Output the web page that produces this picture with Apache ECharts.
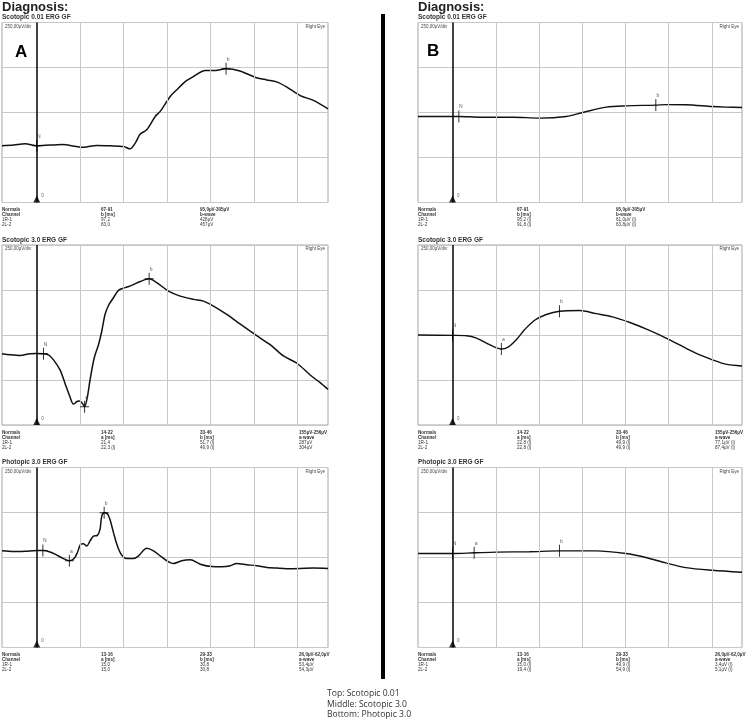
<!DOCTYPE html>
<html><head><meta charset="utf-8">
<script src="https://cdn.jsdelivr.net/npm/echarts@6/dist/echarts.min.js"></script>
<style>html,body{margin:0;padding:0;background:#fff}#c{width:746px;height:727px}</style>
</head><body><div id="c"></div>
<script>
// ---------- data ----------
const timeMin = -16, timeMax = 134;          // ms (20 ms/div)
const ampMin = -500, ampMax = 500, ampStep = 250; // µV (250 µV/div)
const timeGridMs = [20, 40, 60, 80, 100, 120];

const diagnosisLabel = 'Diagnosis:';
const panelTitles = ['Scotopic 0.01 ERG GF', 'Scotopic 3.0 ERG GF', 'Photopic 3.0 ERG GF'];
const scaleLabel = '250,00µV/div';
const eyeLabel = 'Right Eye';
const panelLetters = ['A', 'B'];
const captionLines = ['Top: Scotopic 0.01', 'Middle: Scotopic 3.0', 'Bottom: Photopic 3.0'];

// A column traces [ms, µV]
const aScot001 = [[-16,-185],[-10.7,-181],[-5.4,-174],[0,-185],[6.1,-181],[11.5,-178],[21.5,-193],[27.6,-183],[33.7,-185],[39.9,-189],[42.9,-202],[45.3,-170],[47.6,-120],[50.6,-96],[54.5,-22],[56.8,6],[61.4,89],[64.4,126],[68.3,172],[72.1,200],[77.5,233],[81.3,233],[87.1,243],[93.5,231],[100.4,196],[105.8,181],[110.4,170],[115.1,141],[121.2,94],[127.3,67],[134,20]];
const aScot30 = [[-16,-104],[-12.3,-110],[-7.7,-114],[-3.1,-104],[0,-103],[3.1,-104],[5.4,-110],[7.7,-138],[10.7,-194],[13.0,-269],[15.0,-334],[16.9,-384],[18.7,-368],[19.9,-366],[21.2,-384],[22.0,-399],[23.3,-343],[24.5,-250],[26.4,-129],[28.4,-54],[29.9,21],[31.4,114],[33.0,164],[35.3,207],[37.6,248],[40.7,263],[43.7,276],[47.6,297],[51.7,312],[55.2,291],[60.6,244],[66.0,216],[72.1,198],[76.7,188],[81.3,160],[87.4,114],[93.5,62],[100.5,2],[107.4,-54],[113.5,-116],[119.7,-157],[125.8,-222],[130.4,-265],[134,-302]];
const aPhot30 = [[-16,37],[-10.7,33],[-5.4,35],[0,39],[2.8,39],[6.1,31],[9.2,13],[12.3,-6],[15.0,-18],[17.2,-6],[18.7,28],[20.2,74],[21.5,77],[23.0,64],[24.5,92],[26.1,119],[27.9,123],[29.1,156],[29.9,230],[31.0,248],[32.5,243],[33.7,211],[35.3,138],[37.1,64],[39.1,13],[41.4,-6],[44.5,-6],[46.8,9],[50.6,51],[53.7,37],[56.8,9],[59.8,-18],[62.9,-33],[66.7,-18],[70.6,-13],[75.2,-37],[80.5,-50],[85.1,-51],[89.0,-46],[92.0,-33],[96.6,-40],[101.2,-46],[105.8,-55],[110.4,-59],[115.1,-62],[121.2,-61],[127.3,-59],[134,-61]];

// B column traces [ms, µV]
const bScot001 = [[-16,-22],[0,-22],[2.9,-22],[12.6,-26],[28.0,-26],[40.3,-31],[52.6,-22],[60.3,0],[71.1,30],[80.3,37],[94.1,41],[98.7,44],[108.0,43],[120.3,33],[126.4,30],[134,28]];
const bScot30 = [[-16,0],[0,-2],[6.5,-4],[11.1,-17],[15.7,-45],[19.5,-67],[22.6,-78],[25.7,-67],[29.5,-26],[33.4,30],[38.0,82],[43.4,114],[49.5,132],[58.8,136],[66.4,119],[74.1,101],[81.8,71],[89.5,34],[97.2,-7],[104.9,-54],[112.6,-101],[120.3,-138],[126.4,-162],[134,-172]];
const bPhot30 = [[-16,22],[0,22],[10.0,26],[20.3,30],[35.7,32],[49.5,37],[66.4,37],[80.3,22],[89.5,0],[98.7,-30],[108.0,-56],[120.3,-71],[134,-82]];

// markers [label, ms, µV]
const aScot001Marks = [['N',0,-185],['b',87.1,243],['t',133,20]];
const aScot30Marks  = [['N',3.1,-104],['a',22.0,-399],['b',51.7,312],['t',133,-302]];
const aPhot30Marks  = [['N',2.8,39],['a',15.0,-18],['b',31.0,248],['t',133,-61]];
const bScot001Marks = [['N',2.9,-22],['b',94.1,41],['t',133,28]];
const bScot30Marks  = [['N',0,-2],['a',22.6,-78],['b',49.5,132],['t',133,-172]];
const bPhot30Marks  = [['N',0,22],['a',10.0,26],['b',49.5,37],['t',133,-82]];

// result tables (columns)
const aScot001Results = [['Normals','Channel','1R-1','2L-2'],['67-91','b [ms]','97,2','83,0'],['95,0µV-305µV','b-wave','428µV','457µV']];
const aScot30Results  = [['Normals','Channel','1R-1','2L-2'],['14-22','a [ms]','21,4','22,3 (l)'],['33-46','b [ms]','51,7 (l)','49,9 (l)'],['155µV-256µV','a-wave','287µV','304µV']];
const aPhot30Results  = [['Normals','Channel','1R-1','2L-2'],['13-16','a [ms]','15,0','15,0'],['29-33','b [ms]','30,8','30,8'],['26,0µV-62,0µV','a-wave','53,4µV','54,3µV']];
const bScot001Results = [['Normals','Channel','1R-1','2L-2'],['67-91','b [ms]','95,2 (l)','91,8 (l)'],['95,0µV-305µV','b-wave','61,0µV (l)','63,8µV (l)']];
const bScot30Results  = [['Normals','Channel','1R-1','2L-2'],['14-22','a [ms]','22,8 (l)','22,8 (l)'],['33-46','b [ms]','49,9 (l)','49,9 (l)'],['155µV-256µV','a-wave','77,1µV (l)','87,4µV (l)']];
const bPhot30Results  = [['Normals','Channel','1R-1','2L-2'],['13-16','a [ms]','15,0 (l)','19,4 (l)'],['29-33','b [ms]','49,9 (l)','54,9 (l)'],['26,0µV-62,0µV','a-wave','3,4µV (l)','5,1µV (l)']];

// ---------- layout ----------
const FONT = '"Liberation Sans", Arial, sans-serif';
const colLeft = [2, 418], colWidth = [326, 324];
const rowTop = [22.5, 245, 467.5], boxH = 180;
const resColOffsets = [0, 99, 198, 297];

const panels = [
  {col:0,row:0,trace:aScot001,marks:aScot001Marks,res:aScot001Results},
  {col:0,row:1,trace:aScot30,marks:aScot30Marks,res:aScot30Results},
  {col:0,row:2,trace:aPhot30,marks:aPhot30Marks,res:aPhot30Results},
  {col:1,row:0,trace:bScot001,marks:bScot001Marks,res:bScot001Results},
  {col:1,row:1,trace:bScot30,marks:bScot30Marks,res:bScot30Results},
  {col:1,row:2,trace:bPhot30,marks:bPhot30Marks,res:bPhot30Results}
];

const grids = [], xAxes = [], yAxes = [], series = [], graphics = [];
const crossPath = 'path://M4,0h1v12h-1z M0,5.5h9v1h-9z';
const tickPath = 'path://M0,0h1v12h-1z';

function txt(x, y, text, size, opts) {
  opts = opts || {};
  graphics.push({type:'text', x:x, y:y, silent:true, z:100, style:{
    text:text, fill:opts.color||'#222', textAlign:opts.align||'left', textVerticalAlign:'middle',
    font:(opts.bold?'bold ':'')+size+'px '+(opts.family||FONT)}});
}

panels.forEach((p, i) => {
  const L = colLeft[p.col], W = colWidth[p.col], T = rowTop[p.row];
  grids.push({left:L, top:T, width:W, height:boxH, show:true, borderColor:'#a6a6a6', borderWidth:1, backgroundColor:'#fff'});
  xAxes.push({gridIndex:i, type:'value', min:timeMin, max:timeMax, show:false});
  yAxes.push({gridIndex:i, type:'value', min:ampMin, max:ampMax, interval:ampStep,
    axisLine:{show:false}, axisTick:{show:false}, axisLabel:{show:false},
    splitLine:{show:true, lineStyle:{color:'#c8c8c8', width:1}}});
  // vertical grid lines
  series.push({type:'line', xAxisIndex:i, yAxisIndex:i, data:[], z:1, silent:true, animation:false,
    markLine:{silent:true, symbol:'none', animation:false, label:{show:false},
      lineStyle:{color:'#c8c8c8', width:1, type:'solid'},
      data: timeGridMs.map(v => ({xAxis:v}))}});
  // zero (stimulus) line
  series.push({type:'line', xAxisIndex:i, yAxisIndex:i, data:[], z:4, silent:true, animation:false,
    markLine:{silent:true, symbol:'none', animation:false, label:{show:false},
      lineStyle:{color:'#111', width:1.6, type:'solid'}, data:[{xAxis:0}]}});
  // trace
  series.push({type:'line', xAxisIndex:i, yAxisIndex:i, data:p.trace, z:3, symbol:'none', showSymbol:false,
    smooth:0.3, animation:false, silent:true, lineStyle:{color:'#111', width:p.col===0?1.5:1.4}});
  // stimulus triangle
  series.push({type:'scatter', xAxisIndex:i, yAxisIndex:i, data:[[0, ampMin]], z:5, silent:true, animation:false,
    symbol:'triangle', symbolSize:[7,7], symbolOffset:[0,-3.5], itemStyle:{color:'#000'},
    label:{show:true, formatter:'0', position:'right', distance:1, fontSize:4.5, color:'#333', offset:[0,-3]}});
  // markers
  series.push({type:'scatter', xAxisIndex:i, yAxisIndex:i, z:6, silent:true, animation:false,
    data:p.marks.map(m => ({name:m[0], value:[m[1], m[2]],
      symbol: m[0]==='t' ? 'none' : (p.col===0 ? crossPath : tickPath),
      symbolSize: m[0]==='t' ? 0 : (p.col===0 ? [9,12] : [1,12]),
      label:{offset: m[0]==='t' ? [-2, 0] : [2, 0]}})),
    itemStyle:{color:'#000'},
    label:{show:true, formatter:'{b}', position:'top', distance:1, fontSize:5, color:'#333', fontFamily:FONT}});

  // texts
  txt(L, T - 5, panelTitles[p.row], 6.5, {bold:true, color:'#333'});
  txt(L + 3, T + 4, scaleLabel, 4.5, {color:'#444'});
  txt(L + W - 3, T + 4, eyeLabel, 4.5, {color:'#444', align:'right'});
  p.res.forEach((colLines, c) => {
    colLines.forEach((line, r) => {
      txt(L + resColOffsets[c], T + boxH + 7.5 + r * 5, line, 4.6, {bold: r < 2, color:'#333'});
    });
  });
});

// headers / letters
txt(2, 7.5, diagnosisLabel, 13, {bold:true, color:'#222'});
txt(418, 7.5, diagnosisLabel, 13, {bold:true, color:'#222'});
txt(15, 52.5, panelLetters[0], 17, {bold:true, color:'#000'});
txt(427, 51.5, panelLetters[1], 17, {bold:true, color:'#000'});
// divider
graphics.push({type:'rect', shape:{x:381, y:14, width:4, height:665}, style:{fill:'#000'}, z:100, silent:true});
// caption
captionLines.forEach((s, k) => txt(327, 694 + k * 10.5, s, 8.6, {color:'#333', family:'"Open Sans", "Liberation Sans", sans-serif'}));

const chart = echarts.init(document.getElementById('c'), null, {renderer:'canvas'});
chart.setOption({animation:false, backgroundColor:'#fff', grid:grids, xAxis:xAxes, yAxis:yAxes, series:series, graphic:graphics});
</script></body></html>
